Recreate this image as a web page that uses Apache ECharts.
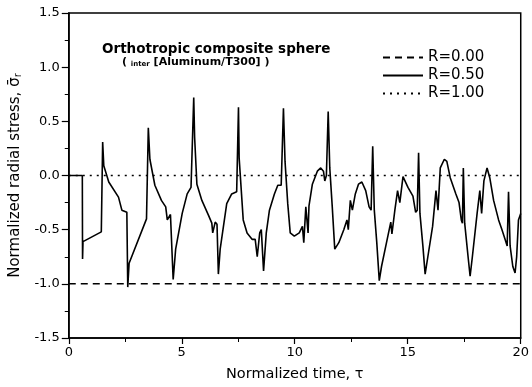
<!DOCTYPE html>
<html>
<head>
<meta charset="utf-8">
<script src="https://cdn.jsdelivr.net/npm/echarts@6/dist/echarts.min.js"></script>
<style>
  html, body { margin: 0; padding: 0; background: #fff; }
  #chart { width: 532px; height: 387px; }
</style>
</head>
<body>
<div id="chart"></div>
<script>
// R = 0.50 trace (tau, normalized radial stress)
const tau50 = [
  0, 0.6, 0.61, 0.63, 1.44, 1.5, 1.55, 1.77, 2.2, 2.35, 2.57, 2.61, 2.67, 3.44, 3.52, 3.59, 3.81,
  4.1, 4.29, 4.36, 4.5, 4.57, 4.62, 4.73, 5.02, 5.24, 5.41, 5.53, 5.57, 5.67, 5.89, 6.19, 6.33,
  6.37, 6.48, 6.56, 6.62, 6.7, 6.99, 7.21, 7.43, 7.51, 7.54, 7.72, 7.89, 8.12, 8.25, 8.34, 8.45,
  8.52, 8.62, 8.74, 8.88, 9.1, 9.25, 9.4, 9.5, 9.57, 9.69, 9.8, 9.98, 10.2, 10.34, 10.4, 10.49,
  10.59, 10.63, 10.78, 11.0, 11.15, 11.27, 11.33, 11.4, 11.48, 11.55, 11.66, 11.77, 11.95, 12.17,
  12.31, 12.37, 12.46, 12.55, 12.68, 12.82, 12.97, 13.14, 13.29, 13.38, 13.45, 13.52, 13.63, 13.74,
  13.84, 14.06, 14.25, 14.3, 14.43, 14.55, 14.65, 14.79, 15.01, 15.23, 15.35, 15.42, 15.48, 15.54,
  15.67, 15.77, 15.89, 16.1, 16.25, 16.34, 16.44, 16.62, 16.73, 16.88, 17.13, 17.27, 17.37, 17.42,
  17.46, 17.52, 17.67, 17.76, 17.86, 18.07, 18.19, 18.27, 18.37, 18.51, 18.63, 18.8, 19.02, 19.17,
  19.31, 19.4, 19.46, 19.53, 19.65, 19.75, 19.82, 19.9, 20.0
]
const stress50 = [
  0, 0, -0.77, -0.61, -0.52, 0.31, 0.09, -0.06, -0.2, -0.32, -0.34, -1.03, -0.81, -0.4, 0.44, 0.15, -0.09,
  -0.23, -0.29, -0.41, -0.36, -0.35, -0.96, -0.68, -0.35, -0.17, -0.11, 0.72, 0.35, -0.08, -0.23, -0.37, -0.44,
  -0.53, -0.43, -0.45, -0.91, -0.68, -0.26, -0.17, -0.15, 0.63, 0.16, -0.41, -0.53, -0.59, -0.59, -0.75, -0.53,
  -0.5, -0.88, -0.53, -0.32, -0.17, -0.09, -0.09, 0.62, 0.13, -0.26, -0.53, -0.56, -0.53, -0.47, -0.62, -0.29,
  -0.53, -0.28, -0.08, 0.04, 0.07, 0.04, -0.05, 0.0, 0.59, 0.07, -0.29, -0.68, -0.62, -0.5,
  -0.41, -0.5, -0.23, -0.32, -0.17, -0.08, -0.06, -0.14, -0.29, -0.32, 0.27, -0.32, -0.62, -0.97,
  -0.84, -0.62, -0.43, -0.54, -0.32, -0.14, -0.25, -0.01, -0.11, -0.19, -0.34, -0.32, 0.21, -0.35,
  -0.65, -0.91, -0.75, -0.47, -0.14, -0.32, 0.07, 0.15, 0.13, -0.02, -0.17, -0.25, -0.41, -0.44,
  0.07, -0.44, -0.75, -0.93, -0.75, -0.35, -0.14, -0.35, -0.05, 0.07, -0.02, -0.23, -0.41, -0.5,
  -0.59, -0.65, -0.15, -0.65, -0.84, -0.9, -0.75, -0.41, -0.35
]
// R = 0.00 and R = 1.00 stay flat
const tau00 = [0, 20]
const stress00 = [-1.0, -1.0]
const tau100 = [0, 20]
const stress100 = [0, 0]

const seriesNames = ['R=0.00', 'R=0.50', 'R=1.00']
const xTicks = [0, 5, 10, 15, 20]
const yTicks = [-1.5, -1.0, -0.5, 0.0, 0.5, 1.0, 1.5]

const zip = (xs, ys) => xs.map((x, i) => [x, ys[i]])

const font = 'DejaVu Sans'
var myChart = echarts.init(document.getElementById('chart'))

const option = {
  animation: false,
  backgroundColor: '#fff',
  color: ['#000', '#000', '#000'],
  grid: {
    left: 67,
    right: 8,
    top: 13,
    bottom: 45,
    show: true,
    borderColor: '#000',
    borderWidth: 1.5,
  },
  legend: {
    data: seriesNames,
    orient: 'vertical',
    left: 377,
    top: 45,
    itemWidth: 40,
    itemHeight: 14,
    itemGap: 3,
    itemStyle: { opacity: 0 },
    textStyle: { fontFamily: font, fontSize: 15, color: '#000' },
  },
  graphic: [
    {
      type: 'text',
      left: 102,
      top: 42,
      style: { text: 'Orthotropic composite sphere', font: 'bold 13.5px "DejaVu Sans"', fill: '#000' },
    },
    {
      type: 'text',
      left: 122,
      top: 57,
      style: {
        text: '( {s|inter} [Aluminum/T300] )',
        font: 'bold 11px "DejaVu Sans"',
        fill: '#000',
        rich: { s: { fontSize: 7, fontWeight: 'bold', fontFamily: font, padding: [4, 0, 0, 0] } },
      },
    },
  ],
  xAxis: {
    type: 'value',
    min: xTicks[0],
    max: xTicks[xTicks.length - 1],
    interval: 5,
    name: 'Normalized time, τ',
    nameLocation: 'middle',
    nameGap: 29,
    nameTextStyle: { fontFamily: font, fontSize: 14.5, color: '#000' },
    axisLine: { onZero: false, lineStyle: { color: '#000', width: 1.5 } },
    axisTick: { inside: false, length: 6, lineStyle: { color: '#000', width: 1.2 } },
    minorTick: { show: true, splitNumber: 2, length: 4, lineStyle: { color: '#000', width: 1 } },
    axisLabel: { margin: 8, fontFamily: font, fontSize: 13, color: '#000' },
    splitLine: { show: false },
  },
  yAxis: {
    type: 'value',
    min: yTicks[0],
    max: yTicks[yTicks.length - 1],
    interval: 0.5,
    name: 'Normalized radial stress, σ̄{sub|r}',
    nameLocation: 'middle',
    nameGap: 42,
    nameTextStyle: {
      fontFamily: font,
      fontSize: 15,
      color: '#000',
      rich: { sub: { fontFamily: font, fontSize: 10, color: '#000', padding: [6, 0, 0, 0] } },
    },
    axisLine: { onZero: false, lineStyle: { color: '#000', width: 1.5 } },
    axisTick: { inside: false, length: 7, lineStyle: { color: '#000', width: 1.2 } },
    minorTick: { show: true, splitNumber: 2, length: 4, lineStyle: { color: '#000', width: 1 } },
    axisLabel: {
      margin: 9,
      fontFamily: font,
      fontSize: 13,
      color: '#000',
      formatter: (v) => v.toFixed(1),
    },
    splitLine: { show: false },
  },
  series: [
    {
      name: 'R=0.00',
      type: 'line',
      data: zip(tau00, stress00),
      showSymbol: false,
      symbol: 'none',
      itemStyle: { color: '#000' },
      lineStyle: { color: '#000', width: 1.5, type: [7, 5] },
      z: 2,
    },
    {
      name: 'R=0.50',
      type: 'line',
      data: zip(tau50, stress50),
      showSymbol: false,
      symbol: 'none',
      itemStyle: { color: '#000' },
      lineStyle: { color: '#000', width: 1.6 },
      z: 3,
    },
    {
      name: 'R=1.00',
      type: 'line',
      data: zip(tau100, stress100),
      showSymbol: false,
      symbol: 'none',
      itemStyle: { color: '#000' },
      lineStyle: { color: '#000', width: 1.5, type: [2, 5] },
      z: 2,
    },
  ],
}

myChart.setOption(option)
</script>
</body>
</html>
